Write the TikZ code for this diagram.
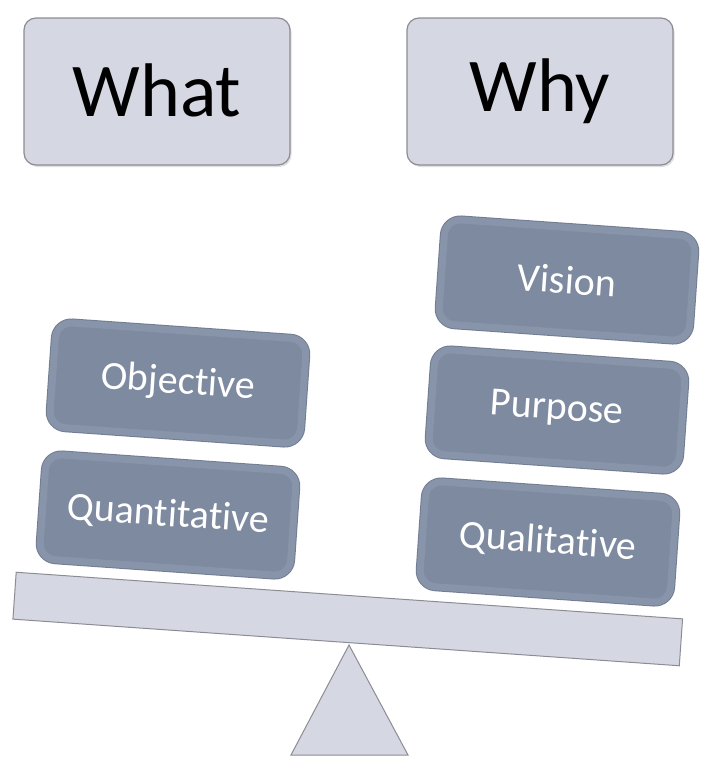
\documentclass[tikz,border=0pt]{standalone}
\usepackage{fontspec}
\setmainfont{Carlito}[Ligatures=NoCommon]
\usetikzlibrary{shadows}
\definecolor{paleFill}{HTML}{D5D7E3}
\definecolor{paleEdge}{HTML}{8C8C94}
\definecolor{slateFill}{HTML}{7E8AA0}
\definecolor{slateBevel}{HTML}{8894A9}
\definecolor{slateEdge}{HTML}{727D92}
\begin{document}
\begin{tikzpicture}[x=1pt,y=-1pt,
  headbox/.style={draw=paleEdge, line width=1.2pt, fill=paleFill,
    rounded corners=12pt, minimum width=266pt, minimum height=147pt,
    inner sep=0pt, font=\fontsize{76}{90}\selectfont,
    drop shadow={opacity=0.25, shadow xshift=1.5pt, shadow yshift=-2pt}},
  slatebox/.style={rotate=-4, draw=slateBevel, line width=7pt, fill=slateFill,
    rounded corners=16pt, minimum width=251pt, minimum height=105pt,
    inner sep=0pt, text=white, font=\fontsize{40}{48}\selectfont,
    preaction={draw=slateEdge, line width=9pt},
    drop shadow={opacity=0.18, shadow xshift=2pt, shadow yshift=-2pt}},
  palepart/.style={draw=paleEdge, line width=1pt, fill=paleFill}]
\useasboundingbox (0,0) rectangle (721,774);

% fulcrum
\coordinate (apex) at (349,645);
\coordinate (bl) at (291,755);
\coordinate (br) at (408,755);
\draw[palepart, line join=miter] (apex) -- (br) -- (bl) -- cycle;

% beam
\node[palepart, rotate=-4, minimum width=668pt, minimum height=47pt,
      inner sep=0pt] (beam) at (347.75,619) {};

% headers
\node[headbox] (what) at (157,91.5) {\raisebox{3pt}{What}};
\node[headbox] (why) at (540,91.5) {Why};

% left stack
\node[slatebox] (quant) at (168,515) {Quantitative};
\node[slatebox] (obj) at (178,383) {Objective};

% right stack
\node[slatebox] (qual) at (548,542) {Qualitative};
\node[slatebox] (purp) at (557,410) {Purpose};
\node[slatebox] (vis) at (567,280) {Vision};
\end{tikzpicture}
\end{document}
